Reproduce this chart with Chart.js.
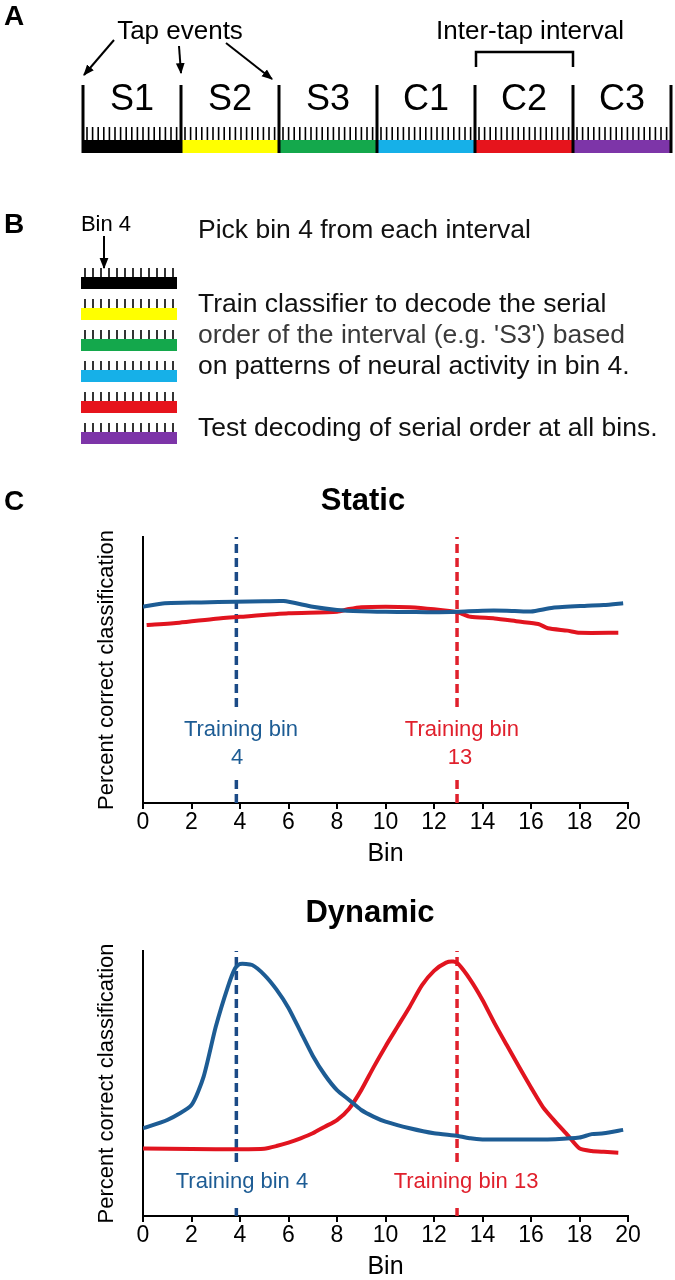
<!DOCTYPE html>
<html><head><meta charset="utf-8">
<script src="https://cdn.jsdelivr.net/npm/chart.js@4.4.1/dist/chart.umd.min.js"></script>
<style>
html,body{margin:0;padding:0;background:#fff;}
body{width:675px;height:1280px;position:relative;overflow:hidden;font-family:"Liberation Sans",Arial,sans-serif;}
canvas{position:absolute;left:0;}
#overlay{position:absolute;left:0;top:0;z-index:2;pointer-events:none;}
</style></head><body>
<canvas id="cStatic" width="675" height="400" style="top:480px"></canvas>
<canvas id="cDynamic" width="675" height="400" style="top:880px"></canvas>
<svg id="overlay" width="675" height="1280" font-family="Liberation Sans, Arial, sans-serif"></svg>
<script>
// ---------------- DATA ----------------
const intervalLabels = ['S1','S2','S3','C1','C2','C3'];
const intervalColors = ['#000000','#ffff00','#14a84c','#16b0e8','#e6141c','#7d35a8'];
const stepTexts = ['Pick bin 4 from each interval','Train classifier to decode the serial',"order of the interval (e.g. 'S3') based",'on patterns of neural activity in bin 4.','Test decoding of serial order at all bins.'];

const xTickStep = 2;
const trainingLinePos = [3.85, 12.95];   // dashed "training bin" markers (bin 4, bin 13)

// Static decoder
const staticBlueBins = [0, 0.9, 2.4, 3.8, 5, 5.8, 7, 8, 9, 10, 11, 12, 13, 14, 15, 16, 16.9, 18.2, 19, 19.8];
const staticBlueVals = [73.8, 75.1, 75.4, 75.7, 75.8, 75.9, 73.8, 72.6, 72.1, 71.9, 71.8, 71.7, 71.9, 72.3, 72.3, 72.0, 73.4, 74.1, 74.4, 75.1];
const staticRedBins  = [0.15, 1.5, 3, 4, 6, 8, 8.5, 9, 10, 11, 12, 13, 13.5, 14.5, 15.5, 16.3, 16.7, 17.5, 18, 19.6];
const staticRedVals  = [66.9, 67.8, 69.3, 70.0, 71.3, 71.9, 72.9, 73.6, 73.8, 73.6, 72.8, 71.6, 70.0, 69.4, 68.2, 67.3, 65.7, 64.8, 64.0, 64.0];

// Dynamic decoder
const dynBlueBins = [0, 1, 2, 2.5, 3, 3.5, 3.8, 4, 4.5, 5, 5.5, 6, 6.5, 7, 7.5, 8, 8.5, 9, 9.5, 10, 11, 12, 13, 13.5, 14, 15, 16, 17, 18, 18.5, 19, 19.8];
const dynBlueVals = [33.1, 36.2, 41.9, 52.6, 71.4, 86.5, 93.5, 95.1, 94.7, 91.0, 85.5, 78.5, 69.5, 60.5, 53.2, 47.5, 43.8, 40.0, 37.5, 35.6, 33.1, 31.2, 30.2, 29.3, 28.9, 28.9, 28.9, 29.0, 29.6, 30.9, 31.2, 32.5];
const dynRedBins = [0, 2, 4, 5, 5.5, 6, 6.5, 7, 7.5, 8, 8.5, 9, 9.5, 10, 10.5, 11, 11.5, 12, 12.5, 12.8, 13, 13.5, 14, 14.5, 15, 15.5, 16, 16.5, 17, 17.5, 18, 18.5, 19, 19.6];
const dynRedVals = [25.5, 25.3, 25.2, 25.4, 26.4, 27.7, 29.3, 31.2, 33.7, 36.2, 40.5, 47.5, 56.0, 64.0, 71.5, 79.0, 87.0, 92.5, 95.6, 96.0, 95.1, 89.1, 81.5, 72.7, 64.5, 56.4, 48.5, 41.0, 35.6, 30.6, 25.5, 24.5, 24.2, 23.9];

// ---------------- STYLE ----------------
const BLUE = '#1d5c94', RED = '#e1141f', BLUE_D = '#1b4a86', RED_D = '#e0202c';
const FONT = '"Liberation Sans", Arial, sans-serif';

// ---------------- SCHEMATIC (SVG) ----------------
const NS = 'http://www.w3.org/2000/svg';
const svg = document.getElementById('overlay');
function el(tag, attrs, text, parent){const e=document.createElementNS(NS,tag);for(const k in attrs)e.setAttribute(k,attrs[k]);if(text!=null)e.textContent=text;(parent||svg).appendChild(e);return e;}
const defs = el('defs',{});
const mk = el('marker',{id:'arr',viewBox:'0 0 10 10',refX:9,refY:5,markerWidth:11,markerHeight:11,markerUnits:'userSpaceOnUse',orient:'auto'},null,defs);
el('path',{d:'M0,1 L10,5 L0,9 z',fill:'#000'},null,mk);
function arrow(x1,y1,x2,y2){el('line',{x1,y1,x2,y2,stroke:'#000','stroke-width':2,'marker-end':'url(#arr)'});}

// Panel A
el('text',{x:4,y:25,'font-size':28,'font-weight':'bold'},'A');
el('text',{x:180,y:39,'font-size':26,'text-anchor':'middle'},'Tap events');
el('text',{x:530,y:39,'font-size':26,'text-anchor':'middle'},'Inter-tap interval');
el('polyline',{points:'476,67 476,52 573,52 573,67',fill:'none',stroke:'#000','stroke-width':2.5});
arrow(114,40,84,75); arrow(179,46,181,73); arrow(226,43,272,79);
const IW = 98, IX = 83;
intervalLabels.forEach((lab,i)=>{
  const x0 = IX + IW*i;
  el('rect',{x:x0,y:140,width:IW,height:13,fill:intervalColors[i]});
  for(let k=0;k<17;k++){const tx=x0+4+k*5.6;el('line',{x1:tx,y1:127,x2:tx,y2:140,stroke:'#000','stroke-width':1.6});}
  el('text',{x:x0+IW/2,y:110,'font-size':36,'text-anchor':'middle'},lab);
});
for(let i=0;i<=intervalLabels.length;i++){const x=IX+IW*i;el('line',{x1:x,y1:85,x2:x,y2:153,stroke:'#000','stroke-width':3});}

// Panel B
el('text',{x:4,y:233,'font-size':28,'font-weight':'bold'},'B');
el('text',{x:106,y:231,'font-size':22,'text-anchor':'middle'},'Bin 4');
arrow(104,236,104,268);
intervalColors.forEach((c,i)=>{
  const top = 277 + 31*i;
  el('rect',{x:81,y:top,width:96,height:12,fill:c});
  for(let k=0;k<12;k++){const tx=85+k*8;el('line',{x1:tx,y1:top-9,x2:tx,y2:top,stroke:'#000','stroke-width':1.6});}
});
const stepY = [238,312,343,374,436];
const stepFill = ['#111','#111','#3a3a3a','#111','#111'];
stepTexts.forEach((t,i)=>el('text',{x:198,y:stepY[i],'font-size':26.5,fill:stepFill[i]},t));

// Panel C headings
el('text',{x:4,y:510,'font-size':28,'font-weight':'bold'},'C');
el('text',{x:363,y:510,'font-size':31,'font-weight':'bold','text-anchor':'middle'},'Static');
el('text',{x:370,y:922,'font-size':31,'font-weight':'bold','text-anchor':'middle'},'Dynamic');

// ---------------- CHARTS ----------------
Chart.defaults.font.family = FONT;
const labelPlugin = {
  id:'binLabels',
  afterDatasetsDraw(chart, args, opts){
    const {ctx, scales:{x,y}} = chart;
    (opts.items||[]).forEach(it=>{
      ctx.save();
      ctx.font = '22px ' + FONT; ctx.fillStyle = it.color;
      ctx.textAlign='center'; ctx.textBaseline='middle';
      ctx.fillText(it.text, x.getPixelForValue(it.bin), y.getPixelForValue(it.level));
      ctx.restore();
    });
  }
};
function pts(xs, ys){return xs.map((v,i)=>({x:v,y:ys[i]}));}
function dashedLine(pos, gapLow, gapHigh){return [{x:pos,y:0},{x:pos,y:gapLow},{x:pos,y:null},{x:pos,y:gapHigh},{x:pos,y:100}];}
function makeChart(id, blue, red, gap, labels, padTop, padBottom){
  return new Chart(document.getElementById(id), {
    type:'line',
    data:{datasets:[
      {data:blue, borderColor:BLUE, borderWidth:4, tension:0.2, order:1},
      {data:red, borderColor:RED, borderWidth:4, tension:0.2, order:1},
      {data:dashedLine(trainingLinePos[0], gap[0], gap[1]), borderColor:BLUE_D, borderWidth:3.5, borderDash:[9,5], spanGaps:false, order:2},
      {data:dashedLine(trainingLinePos[1], gap[0], gap[1]), borderColor:RED_D, borderWidth:3.5, borderDash:[9,5], spanGaps:false, order:2}
    ]},
    options:{
      responsive:false, animation:false, devicePixelRatio:1,
      layout:{padding:{left:80,right:47,top:padTop,bottom:padBottom}},
      elements:{point:{radius:0}},
      plugins:{legend:{display:false}, tooltip:{enabled:false}, binLabels:{items:labels}},
      scales:{
        x:{type:'linear', min:0, max:20, afterFit(s){s.height=64;},
           ticks:{stepSize:xTickStep, color:'#000', font:{size:23}, padding:0, maxRotation:0, autoSkip:false},
           grid:{display:true, drawOnChartArea:false, drawTicks:true, tickLength:6, color:'#000', lineWidth:2},
           border:{display:true, color:'#000', width:2},
           title:{display:true, text:'Bin', color:'#000', font:{size:25, lineHeight:1}, padding:0}},
        y:{type:'linear', min:0, max:100, afterFit(s){s.width=63;},
           ticks:{display:false}, grid:{display:false},
           border:{display:true, color:'#000', width:2},
           title:{display:true, text:'Percent correct classification', color:'#000', font:{size:22}, padding:{top:14,bottom:0}}}
      }
    },
    plugins:[labelPlugin]
  });
}
makeChart('cStatic', pts(staticBlueBins, staticBlueVals), pts(staticRedBins, staticRedVals), [9.4, 36.1], [
  {text:'Training bin', bin:4.04, level:27.4, color:BLUE},
  {text:'4', bin:3.88, level:16.9, color:BLUE},
  {text:'Training bin', bin:13.15, level:27.4, color:RED_D},
  {text:'13', bin:13.07, level:16.9, color:RED_D}
], 57, 13);
makeChart('cDynamic', pts(dynBlueBins, dynBlueVals), pts(dynRedBins, dynRedVals), [3.0, 20.4], [
  {text:'Training bin 4', bin:4.08, level:12.8, color:BLUE},
  {text:'Training bin 13', bin:13.32, level:12.8, color:RED_D}
], 71, 0);
</script>
</body></html>
